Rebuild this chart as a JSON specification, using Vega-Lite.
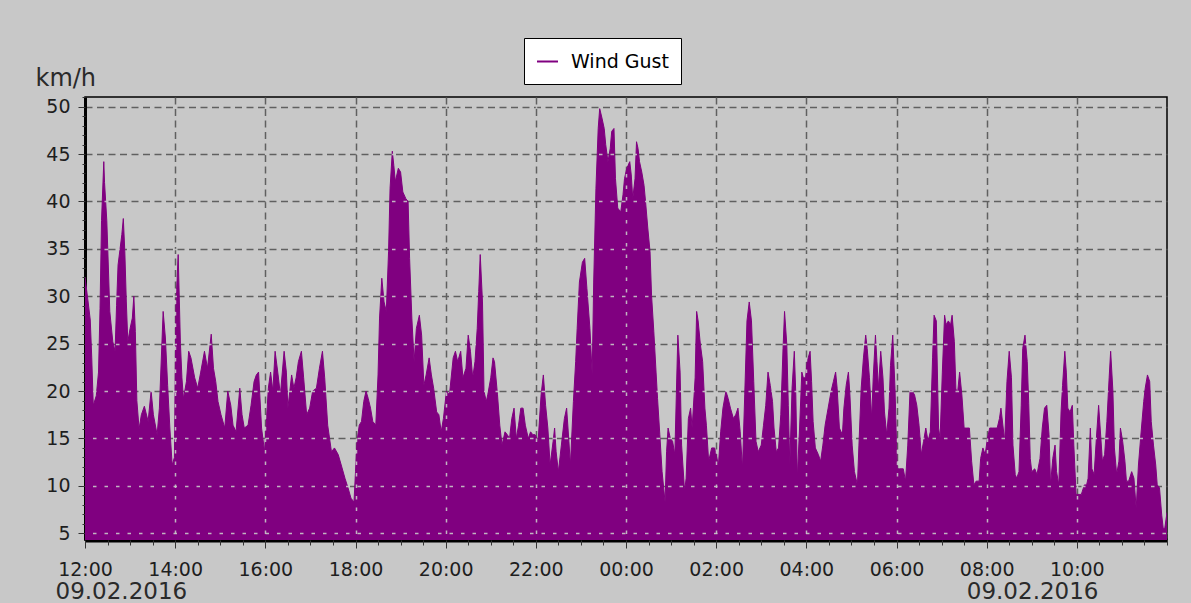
{
"$schema":"https://vega.github.io/schema/vega-lite/v6.json",
"width":1082,"height":443,
"autosize":{"type":"none"},
"padding":{"left":85,"top":97,"right":24,"bottom":63},
"background":"#c8c8c8",
"config":{"view":{"fill":"#c8c8c8","stroke":"#000000","strokeWidth":1.5},"font":"DejaVu Sans"},
"data":{"values":[
{"t":"2016-02-09T12:00","v":32},{"t":"2016-02-09T12:04","v":29.5},{"t":"2016-02-09T12:07","v":27.5},{"t":"2016-02-09T12:09","v":23.5},{"t":"2016-02-09T12:11","v":18.5},{"t":"2016-02-09T12:15","v":19.5},{"t":"2016-02-09T12:18","v":22},{"t":"2016-02-09T12:20","v":28.7},{"t":"2016-02-09T12:22","v":38},{"t":"2016-02-09T12:25","v":44.2},{"t":"2016-02-09T12:26","v":42},{"t":"2016-02-09T12:29","v":38},{"t":"2016-02-09T12:31","v":33.3},{"t":"2016-02-09T12:33","v":28.4},{"t":"2016-02-09T12:37","v":25.2},{"t":"2016-02-09T12:40","v":24.2},{"t":"2016-02-09T12:42","v":29},{"t":"2016-02-09T12:44","v":33.3},{"t":"2016-02-09T12:49","v":36.5},{"t":"2016-02-09T12:51","v":38.2},{"t":"2016-02-09T12:53","v":34.7},{"t":"2016-02-09T12:55","v":29.4},{"t":"2016-02-09T12:57","v":25.2},
{"t":"2016-02-09T13:00","v":26.6},{"t":"2016-02-09T13:03","v":27.7},{"t":"2016-02-09T13:05","v":30},{"t":"2016-02-09T13:07","v":26.3},{"t":"2016-02-09T13:09","v":19},{"t":"2016-02-09T13:12","v":16},{"t":"2016-02-09T13:15","v":17.5},{"t":"2016-02-09T13:19","v":18.4},{"t":"2016-02-09T13:24","v":16.8},{"t":"2016-02-09T13:28","v":20},{"t":"2016-02-09T13:31","v":17.5},{"t":"2016-02-09T13:36","v":15.4},{"t":"2016-02-09T13:39","v":18.2},{"t":"2016-02-09T13:44","v":28.4},{"t":"2016-02-09T13:47","v":25.6},{"t":"2016-02-09T13:50","v":20.6},{"t":"2016-02-09T13:53","v":16},{"t":"2016-02-09T13:56","v":12.2},{"t":"2016-02-09T13:59","v":13},
{"t":"2016-02-09T14:01","v":29},{"t":"2016-02-09T14:04","v":34.4},{"t":"2016-02-09T14:07","v":25},{"t":"2016-02-09T14:09","v":21.4},{"t":"2016-02-09T14:11","v":19.2},{"t":"2016-02-09T14:15","v":21},{"t":"2016-02-09T14:18","v":24.2},{"t":"2016-02-09T14:21","v":23.5},{"t":"2016-02-09T14:26","v":21.4},{"t":"2016-02-09T14:30","v":20.3},{"t":"2016-02-09T14:34","v":22},{"t":"2016-02-09T14:39","v":24.2},{"t":"2016-02-09T14:43","v":22.4},{"t":"2016-02-09T14:48","v":26},{"t":"2016-02-09T14:51","v":22.4},{"t":"2016-02-09T14:54","v":21},{"t":"2016-02-09T14:57","v":18.9},
{"t":"2016-02-09T15:01","v":17.5},{"t":"2016-02-09T15:06","v":16.1},{"t":"2016-02-09T15:10","v":20},{"t":"2016-02-09T15:14","v":18.5},{"t":"2016-02-09T15:17","v":16.4},{"t":"2016-02-09T15:21","v":15.7},{"t":"2016-02-09T15:26","v":20.3},{"t":"2016-02-09T15:29","v":17.5},{"t":"2016-02-09T15:32","v":16.1},{"t":"2016-02-09T15:37","v":16.4},{"t":"2016-02-09T15:41","v":18.5},{"t":"2016-02-09T15:45","v":21},{"t":"2016-02-09T15:48","v":21.7},{"t":"2016-02-09T15:51","v":22},{"t":"2016-02-09T15:55","v":16.1},{"t":"2016-02-09T15:59","v":13.6},
{"t":"2016-02-09T16:04","v":20.3},{"t":"2016-02-09T16:07","v":22},{"t":"2016-02-09T16:10","v":20},{"t":"2016-02-09T16:13","v":24.2},{"t":"2016-02-09T16:17","v":21.7},{"t":"2016-02-09T16:20","v":19.6},{"t":"2016-02-09T16:25","v":24.2},{"t":"2016-02-09T16:28","v":22},{"t":"2016-02-09T16:30","v":18.2},{"t":"2016-02-09T16:35","v":21.7},{"t":"2016-02-09T16:38","v":20.3},{"t":"2016-02-09T16:41","v":21.4},{"t":"2016-02-09T16:44","v":23.1},{"t":"2016-02-09T16:48","v":24.2},{"t":"2016-02-09T16:51","v":21.4},{"t":"2016-02-09T16:55","v":17.5},{"t":"2016-02-09T16:59","v":18.2},
{"t":"2016-02-09T17:03","v":20},{"t":"2016-02-09T17:08","v":20.3},{"t":"2016-02-09T17:12","v":22.4},{"t":"2016-02-09T17:16","v":24.2},{"t":"2016-02-09T17:19","v":21.4},{"t":"2016-02-09T17:23","v":16.4},{"t":"2016-02-09T17:28","v":13.6},{"t":"2016-02-09T17:32","v":14},{"t":"2016-02-09T17:37","v":13.3},{"t":"2016-02-09T17:41","v":12.2},{"t":"2016-02-09T17:46","v":10.8},{"t":"2016-02-09T17:50","v":9.8},{"t":"2016-02-09T17:54","v":8.7},{"t":"2016-02-09T17:58","v":8.3},
{"t":"2016-02-09T18:00","v":11.5},{"t":"2016-02-09T18:02","v":14.7},{"t":"2016-02-09T18:05","v":16.4},{"t":"2016-02-09T18:08","v":16.8},{"t":"2016-02-09T18:11","v":18.9},{"t":"2016-02-09T18:14","v":20},{"t":"2016-02-09T18:17","v":19.2},{"t":"2016-02-09T18:20","v":18.2},{"t":"2016-02-09T18:23","v":16.8},{"t":"2016-02-09T18:27","v":16.4},{"t":"2016-02-09T18:30","v":21.7},{"t":"2016-02-09T18:32","v":27.7},{"t":"2016-02-09T18:35","v":31.9},{"t":"2016-02-09T18:38","v":29.4},{"t":"2016-02-09T18:41","v":28.4},{"t":"2016-02-09T18:44","v":34.7},{"t":"2016-02-09T18:46","v":41.4},{"t":"2016-02-09T18:49","v":45.3},{"t":"2016-02-09T18:51","v":43.8},{"t":"2016-02-09T18:53","v":42.1},{"t":"2016-02-09T18:57","v":43.5},
{"t":"2016-02-09T19:00","v":43.1},{"t":"2016-02-09T19:03","v":41},{"t":"2016-02-09T19:07","v":40.3},{"t":"2016-02-09T19:10","v":40},{"t":"2016-02-09T19:12","v":34},{"t":"2016-02-09T19:15","v":27.7},{"t":"2016-02-09T19:18","v":23.1},{"t":"2016-02-09T19:21","v":26.6},{"t":"2016-02-09T19:25","v":28},{"t":"2016-02-09T19:28","v":25.9},{"t":"2016-02-09T19:31","v":20.6},{"t":"2016-02-09T19:34","v":21.7},{"t":"2016-02-09T19:38","v":23.5},{"t":"2016-02-09T19:41","v":21.7},{"t":"2016-02-09T19:44","v":20.3},{"t":"2016-02-09T19:48","v":17.8},{"t":"2016-02-09T19:51","v":17.5},{"t":"2016-02-09T19:54","v":15.7},{"t":"2016-02-09T19:57","v":17.1},
{"t":"2016-02-09T20:01","v":20},{"t":"2016-02-09T20:05","v":19.6},{"t":"2016-02-09T20:10","v":23.5},{"t":"2016-02-09T20:13","v":24.2},{"t":"2016-02-09T20:16","v":23.1},{"t":"2016-02-09T20:20","v":24.2},{"t":"2016-02-09T20:23","v":21.4},{"t":"2016-02-09T20:27","v":22.4},{"t":"2016-02-09T20:30","v":25.9},{"t":"2016-02-09T20:33","v":24.2},{"t":"2016-02-09T20:36","v":21.4},{"t":"2016-02-09T20:39","v":23.1},{"t":"2016-02-09T20:42","v":26.6},{"t":"2016-02-09T20:44","v":30.5},{"t":"2016-02-09T20:46","v":34.4},{"t":"2016-02-09T20:49","v":29.4},{"t":"2016-02-09T20:51","v":20},{"t":"2016-02-09T20:54","v":18.9},{"t":"2016-02-09T20:56","v":19.6},
{"t":"2016-02-09T21:00","v":21.4},{"t":"2016-02-09T21:03","v":23.5},{"t":"2016-02-09T21:05","v":23.1},{"t":"2016-02-09T21:09","v":19.6},{"t":"2016-02-09T21:12","v":16.4},{"t":"2016-02-09T21:15","v":14.3},{"t":"2016-02-09T21:19","v":15.7},{"t":"2016-02-09T21:22","v":15.4},{"t":"2016-02-09T21:25","v":15},{"t":"2016-02-09T21:28","v":17.1},{"t":"2016-02-09T21:31","v":18.2},{"t":"2016-02-09T21:34","v":15},{"t":"2016-02-09T21:37","v":16.4},{"t":"2016-02-09T21:40","v":18.2},{"t":"2016-02-09T21:43","v":18.2},{"t":"2016-02-09T21:46","v":16.4},{"t":"2016-02-09T21:50","v":15},{"t":"2016-02-09T21:53","v":15.7},{"t":"2016-02-09T21:56","v":15.4},{"t":"2016-02-09T21:59","v":15.4},
{"t":"2016-02-09T22:03","v":14.7},{"t":"2016-02-09T22:07","v":19.6},{"t":"2016-02-09T22:10","v":21.7},{"t":"2016-02-09T22:13","v":18.5},{"t":"2016-02-09T22:16","v":16.1},{"t":"2016-02-09T22:19","v":12.2},{"t":"2016-02-09T22:23","v":14.7},{"t":"2016-02-09T22:25","v":16.1},{"t":"2016-02-09T22:27","v":13.6},{"t":"2016-02-09T22:30","v":11.5},{"t":"2016-02-09T22:34","v":14.3},{"t":"2016-02-09T22:38","v":17.1},{"t":"2016-02-09T22:41","v":18.2},{"t":"2016-02-09T22:44","v":14.7},{"t":"2016-02-09T22:46","v":12.2},{"t":"2016-02-09T22:50","v":18.9},{"t":"2016-02-09T22:53","v":23.1},{"t":"2016-02-09T22:55","v":26.6},{"t":"2016-02-09T22:58","v":31.5},
{"t":"2016-02-09T23:02","v":33.6},{"t":"2016-02-09T23:05","v":34},{"t":"2016-02-09T23:08","v":30.8},{"t":"2016-02-09T23:12","v":26.6},{"t":"2016-02-09T23:15","v":21.7},{"t":"2016-02-09T23:17","v":31.5},{"t":"2016-02-09T23:20","v":41.4},{"t":"2016-02-09T23:23","v":47.7},{"t":"2016-02-09T23:25","v":49.8},{"t":"2016-02-09T23:28","v":48.8},{"t":"2016-02-09T23:31","v":47.7},{"t":"2016-02-09T23:33","v":46},{"t":"2016-02-09T23:36","v":44.2},{"t":"2016-02-09T23:39","v":45.6},{"t":"2016-02-09T23:41","v":47.4},{"t":"2016-02-09T23:44","v":47.7},{"t":"2016-02-09T23:46","v":42.4},{"t":"2016-02-09T23:49","v":39.3},{"t":"2016-02-09T23:53","v":38.9},{"t":"2016-02-09T23:56","v":40.7},{"t":"2016-02-09T23:58","v":42.4},
{"t":"2016-02-10T00:01","v":43.5},{"t":"2016-02-10T00:05","v":44.2},{"t":"2016-02-10T00:07","v":42.8},{"t":"2016-02-10T00:09","v":40.3},{"t":"2016-02-10T00:12","v":42.4},{"t":"2016-02-10T00:14","v":46.3},{"t":"2016-02-10T00:16","v":45.6},{"t":"2016-02-10T00:18","v":44.2},{"t":"2016-02-10T00:21","v":43.1},{"t":"2016-02-10T00:24","v":41.7},{"t":"2016-02-10T00:26","v":40},{"t":"2016-02-10T00:29","v":37.2},{"t":"2016-02-10T00:32","v":34.7},{"t":"2016-02-10T00:34","v":30.1},{"t":"2016-02-10T00:37","v":26.3},{"t":"2016-02-10T00:40","v":22},{"t":"2016-02-10T00:42","v":19.2},{"t":"2016-02-10T00:45","v":15.4},{"t":"2016-02-10T00:48","v":11.5},{"t":"2016-02-10T00:52","v":8.3},{"t":"2016-02-10T00:54","v":13.6},{"t":"2016-02-10T00:56","v":16.1},{"t":"2016-02-10T00:59","v":15},
{"t":"2016-02-10T01:02","v":14.7},{"t":"2016-02-10T01:05","v":13.3},{"t":"2016-02-10T01:07","v":19.6},{"t":"2016-02-10T01:09","v":25.9},{"t":"2016-02-10T01:12","v":22},{"t":"2016-02-10T01:14","v":14.3},{"t":"2016-02-10T01:18","v":9.4},{"t":"2016-02-10T01:20","v":10.8},{"t":"2016-02-10T01:23","v":17.1},{"t":"2016-02-10T01:26","v":18.2},{"t":"2016-02-10T01:28","v":16.1},{"t":"2016-02-10T01:32","v":21.4},{"t":"2016-02-10T01:34","v":28.4},{"t":"2016-02-10T01:36","v":27.4},{"t":"2016-02-10T01:39","v":24.9},{"t":"2016-02-10T01:42","v":23.1},{"t":"2016-02-10T01:45","v":18.2},{"t":"2016-02-10T01:47","v":16.4},{"t":"2016-02-10T01:50","v":12.6},{"t":"2016-02-10T01:54","v":14},{"t":"2016-02-10T01:58","v":14},
{"t":"2016-02-10T02:03","v":12.2},{"t":"2016-02-10T02:06","v":15.7},{"t":"2016-02-10T02:09","v":18.2},{"t":"2016-02-10T02:13","v":20},{"t":"2016-02-10T02:16","v":19.2},{"t":"2016-02-10T02:19","v":18.2},{"t":"2016-02-10T02:23","v":17.1},{"t":"2016-02-10T02:26","v":17.5},{"t":"2016-02-10T02:29","v":18.2},{"t":"2016-02-10T02:32","v":15.7},{"t":"2016-02-10T02:35","v":11.8},{"t":"2016-02-10T02:38","v":19.6},{"t":"2016-02-10T02:41","v":27.4},{"t":"2016-02-10T02:44","v":29.4},{"t":"2016-02-10T02:47","v":27.4},{"t":"2016-02-10T02:50","v":21},{"t":"2016-02-10T02:53","v":14.7},{"t":"2016-02-10T02:56","v":13.6},
{"t":"2016-02-10T03:00","v":14.3},{"t":"2016-02-10T03:03","v":16.4},{"t":"2016-02-10T03:06","v":18.5},{"t":"2016-02-10T03:09","v":22},{"t":"2016-02-10T03:12","v":20.6},{"t":"2016-02-10T03:15","v":18.9},{"t":"2016-02-10T03:17","v":16.1},{"t":"2016-02-10T03:20","v":13.6},{"t":"2016-02-10T03:23","v":14},{"t":"2016-02-10T03:26","v":17.5},{"t":"2016-02-10T03:29","v":24.5},{"t":"2016-02-10T03:31","v":28.4},{"t":"2016-02-10T03:34","v":24.9},{"t":"2016-02-10T03:36","v":18.5},{"t":"2016-02-10T03:38","v":12.2},{"t":"2016-02-10T03:41","v":20.3},{"t":"2016-02-10T03:44","v":24.2},{"t":"2016-02-10T03:46","v":19.6},{"t":"2016-02-10T03:48","v":10.8},{"t":"2016-02-10T03:51","v":16.1},{"t":"2016-02-10T03:54","v":22},{"t":"2016-02-10T03:56","v":21.4},{"t":"2016-02-10T03:59","v":21.4},
{"t":"2016-02-10T04:01","v":23.1},{"t":"2016-02-10T04:05","v":24.2},{"t":"2016-02-10T04:07","v":21},{"t":"2016-02-10T04:09","v":16.8},{"t":"2016-02-10T04:12","v":14},{"t":"2016-02-10T04:16","v":13.3},{"t":"2016-02-10T04:19","v":12.6},{"t":"2016-02-10T04:22","v":14.3},{"t":"2016-02-10T04:25","v":16.4},{"t":"2016-02-10T04:29","v":18.2},{"t":"2016-02-10T04:33","v":20},{"t":"2016-02-10T04:36","v":21},{"t":"2016-02-10T04:39","v":22},{"t":"2016-02-10T04:41","v":20.3},{"t":"2016-02-10T04:44","v":16.1},{"t":"2016-02-10T04:48","v":15.4},{"t":"2016-02-10T04:50","v":18.2},{"t":"2016-02-10T04:53","v":20.6},{"t":"2016-02-10T04:56","v":22},{"t":"2016-02-10T04:58","v":19.6},
{"t":"2016-02-10T05:01","v":14.3},{"t":"2016-02-10T05:04","v":11.5},{"t":"2016-02-10T05:08","v":10.1},{"t":"2016-02-10T05:10","v":14.3},{"t":"2016-02-10T05:13","v":20.3},{"t":"2016-02-10T05:16","v":23.5},{"t":"2016-02-10T05:19","v":25.9},{"t":"2016-02-10T05:21","v":24.5},{"t":"2016-02-10T05:24","v":21.4},{"t":"2016-02-10T05:27","v":17.1},{"t":"2016-02-10T05:29","v":21.4},{"t":"2016-02-10T05:32","v":25.9},{"t":"2016-02-10T05:34","v":23.1},{"t":"2016-02-10T05:36","v":20.3},{"t":"2016-02-10T05:39","v":24.2},{"t":"2016-02-10T05:42","v":21.4},{"t":"2016-02-10T05:44","v":17.8},{"t":"2016-02-10T05:47","v":15.4},{"t":"2016-02-10T05:50","v":18.2},{"t":"2016-02-10T05:52","v":22.7},{"t":"2016-02-10T05:55","v":25.9},{"t":"2016-02-10T05:58","v":20.3},
{"t":"2016-02-10T06:01","v":11.8},{"t":"2016-02-10T06:04","v":11.8},{"t":"2016-02-10T06:09","v":11.8},{"t":"2016-02-10T06:12","v":10.5},{"t":"2016-02-10T06:15","v":14.3},{"t":"2016-02-10T06:18","v":20},{"t":"2016-02-10T06:21","v":20},{"t":"2016-02-10T06:24","v":19.6},{"t":"2016-02-10T06:27","v":18.5},{"t":"2016-02-10T06:30","v":16.4},{"t":"2016-02-10T06:33","v":13.3},{"t":"2016-02-10T06:36","v":14.7},{"t":"2016-02-10T06:39","v":16.1},{"t":"2016-02-10T06:42","v":14.7},{"t":"2016-02-10T06:45","v":15.7},{"t":"2016-02-10T06:48","v":23.5},{"t":"2016-02-10T06:50","v":28},{"t":"2016-02-10T06:53","v":27.4},{"t":"2016-02-10T06:56","v":16.1},{"t":"2016-02-10T06:58","v":15},
{"t":"2016-02-10T07:01","v":22},{"t":"2016-02-10T07:04","v":28},{"t":"2016-02-10T07:06","v":27},{"t":"2016-02-10T07:09","v":27.4},{"t":"2016-02-10T07:12","v":27},{"t":"2016-02-10T07:14","v":28},{"t":"2016-02-10T07:17","v":25.2},{"t":"2016-02-10T07:19","v":20.3},{"t":"2016-02-10T07:21","v":19.6},{"t":"2016-02-10T07:24","v":22},{"t":"2016-02-10T07:27","v":19.6},{"t":"2016-02-10T07:30","v":16.1},{"t":"2016-02-10T07:33","v":16.1},{"t":"2016-02-10T07:37","v":16.1},{"t":"2016-02-10T07:40","v":12.6},{"t":"2016-02-10T07:43","v":10.1},{"t":"2016-02-10T07:46","v":10.5},{"t":"2016-02-10T07:50","v":10.5},{"t":"2016-02-10T07:52","v":12.9},{"t":"2016-02-10T07:55","v":14},{"t":"2016-02-10T07:58","v":13.3},
{"t":"2016-02-10T08:01","v":15},{"t":"2016-02-10T08:04","v":16.1},{"t":"2016-02-10T08:08","v":16.1},{"t":"2016-02-10T08:11","v":16.1},{"t":"2016-02-10T08:14","v":16.1},{"t":"2016-02-10T08:17","v":17.1},{"t":"2016-02-10T08:19","v":18.2},{"t":"2016-02-10T08:22","v":16.1},{"t":"2016-02-10T08:24","v":14.7},{"t":"2016-02-10T08:27","v":21},{"t":"2016-02-10T08:30","v":24.2},{"t":"2016-02-10T08:33","v":21.4},{"t":"2016-02-10T08:35","v":14.3},{"t":"2016-02-10T08:38","v":11.2},{"t":"2016-02-10T08:40","v":10.8},{"t":"2016-02-10T08:43","v":11.5},{"t":"2016-02-10T08:46","v":18.5},{"t":"2016-02-10T08:48","v":24.5},{"t":"2016-02-10T08:51","v":25.9},{"t":"2016-02-10T08:54","v":23.1},{"t":"2016-02-10T08:56","v":18.7},{"t":"2016-02-10T08:58","v":12.9},
{"t":"2016-02-10T09:00","v":11.5},{"t":"2016-02-10T09:04","v":11.8},{"t":"2016-02-10T09:07","v":11.2},{"t":"2016-02-10T09:11","v":12.9},{"t":"2016-02-10T09:14","v":16.1},{"t":"2016-02-10T09:17","v":18.2},{"t":"2016-02-10T09:20","v":18.5},{"t":"2016-02-10T09:23","v":15.4},{"t":"2016-02-10T09:25","v":10.1},{"t":"2016-02-10T09:28","v":12.9},{"t":"2016-02-10T09:31","v":14.3},{"t":"2016-02-10T09:33","v":11.5},{"t":"2016-02-10T09:36","v":10.1},{"t":"2016-02-10T09:39","v":17.8},{"t":"2016-02-10T09:41","v":20.6},{"t":"2016-02-10T09:44","v":24.2},{"t":"2016-02-10T09:46","v":22},{"t":"2016-02-10T09:48","v":18.2},{"t":"2016-02-10T09:51","v":17.8},{"t":"2016-02-10T09:54","v":18.5},{"t":"2016-02-10T09:56","v":14.3},{"t":"2016-02-10T09:59","v":9.1},
{"t":"2016-02-10T10:03","v":9.1},{"t":"2016-02-10T10:06","v":9.1},{"t":"2016-02-10T10:10","v":10.1},{"t":"2016-02-10T10:13","v":10.1},{"t":"2016-02-10T10:15","v":10.8},{"t":"2016-02-10T10:18","v":16.1},{"t":"2016-02-10T10:20","v":11.8},{"t":"2016-02-10T10:23","v":11.2},{"t":"2016-02-10T10:26","v":15},{"t":"2016-02-10T10:29","v":18.5},{"t":"2016-02-10T10:32","v":15},{"t":"2016-02-10T10:34","v":12.6},{"t":"2016-02-10T10:37","v":13.3},{"t":"2016-02-10T10:40","v":16.8},{"t":"2016-02-10T10:43","v":21.4},{"t":"2016-02-10T10:45","v":24.2},{"t":"2016-02-10T10:48","v":20},{"t":"2016-02-10T10:50","v":14},{"t":"2016-02-10T10:53","v":11.2},{"t":"2016-02-10T10:56","v":12.6},{"t":"2016-02-10T10:58","v":16.1},
{"t":"2016-02-10T11:01","v":14.7},{"t":"2016-02-10T11:04","v":12.6},{"t":"2016-02-10T11:06","v":10.5},{"t":"2016-02-10T11:09","v":10.5},{"t":"2016-02-10T11:13","v":11.5},{"t":"2016-02-10T11:16","v":10.8},{"t":"2016-02-10T11:19","v":7.6},{"t":"2016-02-10T11:22","v":12.2},{"t":"2016-02-10T11:26","v":16.1},{"t":"2016-02-10T11:29","v":18.9},{"t":"2016-02-10T11:31","v":20.3},{"t":"2016-02-10T11:34","v":21.7},{"t":"2016-02-10T11:37","v":21},{"t":"2016-02-10T11:39","v":16.8},{"t":"2016-02-10T11:42","v":14.3},{"t":"2016-02-10T11:45","v":12.2},{"t":"2016-02-10T11:47","v":10.1},{"t":"2016-02-10T11:50","v":9.8},{"t":"2016-02-10T11:53","v":6.9},{"t":"2016-02-10T11:55","v":5.5},{"t":"2016-02-10T11:57","v":5.5},{"t":"2016-02-10T12:00","v":7.2}
]},
"layer":[
{"mark":{"type":"area","color":"#800080","clip":true},
 "encoding":{
  "x":{"field":"t","type":"temporal","scale":{"domain":[{"year":2016,"month":2,"date":9,"hours":12},{"year":2016,"month":2,"date":10,"hours":12}]},
   "axis":{"orient":"bottom","values":[{"year":2016,"month":2,"date":9,"hours":12},{"year":2016,"month":2,"date":9,"hours":14},{"year":2016,"month":2,"date":9,"hours":16},{"year":2016,"month":2,"date":9,"hours":18},{"year":2016,"month":2,"date":9,"hours":20},{"year":2016,"month":2,"date":9,"hours":22},{"year":2016,"month":2,"date":10,"hours":0},{"year":2016,"month":2,"date":10,"hours":2},{"year":2016,"month":2,"date":10,"hours":4},{"year":2016,"month":2,"date":10,"hours":6},{"year":2016,"month":2,"date":10,"hours":8},{"year":2016,"month":2,"date":10,"hours":10}],"format":"%H:%M","labelFlush":false,"labelOverlap":false,"labelFont":"DejaVu Sans","labelFontSize":19,"labelColor":"#1e1e1e","labelPadding":12,"tickSize":8,"tickColor":"#333333","tickWidth":1,"domainColor":"#000000","domainWidth":4,"grid":true,"gridColor":"#606060","gridDash":[7,4.5],"gridWidth":1.5,"title":"09.02.2016","titleFont":"DejaVu Sans","titleFontSize":23,"titleFontWeight":"normal","titleColor":"#2a2a2a","titleX":-30,"titleY":58,"titleAlign":"left","titleBaseline":"alphabetic"}},
  "y":{"field":"v","type":"quantitative","scale":{"domain":[4.29,51.02],"nice":false,"zero":false},
   "axis":{"orient":"left","values":[5,10,15,20,25,30,35,40,45,50],"labelFont":"DejaVu Sans","labelFontSize":19,"labelColor":"#1e1e1e","labelPadding":8,"tickSize":7,"tickColor":"#333333","domainColor":"#000000","domainWidth":3,"grid":true,"gridColor":"#606060","gridDash":[7,4.5],"gridWidth":1.5,"title":"km/h","titleFont":"DejaVu Sans","titleAngle":0,"titleX":-50,"titleY":-12,"titleAlign":"left","titleBaseline":"alphabetic","titleFontSize":24,"titleFontWeight":"normal","titleColor":"#2a2a2a"}}
 }},
{"mark":{"type":"line","strokeWidth":1,"clip":true},
 "encoding":{
  "x":{"field":"t","type":"temporal",
   "axis":{"orient":"bottom","tickCount":48,"labels":false,"grid":false,"domain":false,"tickSize":5,"tickColor":"#333333","title":"09.02.2016","titleFont":"DejaVu Sans","titleFontSize":23,"titleFontWeight":"normal","titleColor":"#2a2a2a","titleX":1013,"titleY":58,"titleAlign":"right","titleBaseline":"alphabetic"}},
  "y":{"field":"v","type":"quantitative",
   "axis":{"orient":"left","values":[5,6,7,8,9,10,11,12,13,14,15,16,17,18,19,20,21,22,23,24,25,26,27,28,29,30,31,32,33,34,35,36,37,38,39,40,41,42,43,44,45,46,47,48,49,50,51],"labels":false,"grid":false,"domain":false,"tickSize":3,"tickColor":"#333333","title":null}},
  "color":{"datum":"Wind Gust","type":"nominal","scale":{"range":["#800080"]},
   "legend":{"title":null,"orient":"none","legendX":439,"legendY":-59,"fillColor":"#ffffff","strokeColor":"#000000","padding":12,"symbolType":"stroke","symbolSize":440,"symbolStrokeWidth":2,"labelFont":"DejaVu Sans","labelFontSize":19,"labelColor":"#000000","labelOffset":12}}
 }},
{"mark":{"type":"line","opacity":0},
 "encoding":{
  "x":{"field":"t","type":"temporal",
   "axis":{"orient":"bottom","values":[{"year":2016,"month":2,"date":9,"hours":14},{"year":2016,"month":2,"date":9,"hours":16},{"year":2016,"month":2,"date":9,"hours":18},{"year":2016,"month":2,"date":9,"hours":20},{"year":2016,"month":2,"date":9,"hours":22},{"year":2016,"month":2,"date":10,"hours":0},{"year":2016,"month":2,"date":10,"hours":2},{"year":2016,"month":2,"date":10,"hours":4},{"year":2016,"month":2,"date":10,"hours":6},{"year":2016,"month":2,"date":10,"hours":8},{"year":2016,"month":2,"date":10,"hours":10}],"labels":false,"ticks":false,"domain":false,"title":null,"grid":true,"gridColor":"#c8c8c8","gridOpacity":0.9,"gridDash":[3.5,8],"gridDashOffset":4,"gridWidth":1.5,"zindex":1}},
  "y":{"field":"v","type":"quantitative",
   "axis":{"orient":"left","values":[5,10,15,20,25,30,35,40,45,50],"labels":false,"ticks":false,"domain":false,"title":null,"grid":true,"gridColor":"#c8c8c8","gridOpacity":0.9,"gridDash":[3.5,8],"gridDashOffset":4,"gridWidth":1.5,"zindex":1}}
 }}
],
"resolve":{"axis":{"x":"independent","y":"independent"}}
}
